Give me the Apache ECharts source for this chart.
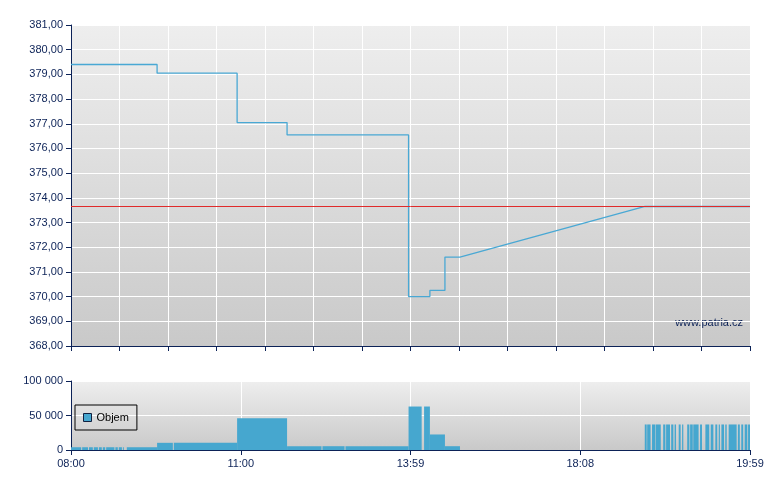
<!DOCTYPE html>
<html>
<head>
<meta charset="utf-8">
<script src="https://cdn.jsdelivr.net/npm/echarts@6/dist/echarts.min.js"></script>
<style>html,body{margin:0;padding:0;background:#fff}#c{width:780px;height:490px}</style>
</head>
<body>
<div id="c"></div>
<script>
// x axis is a trade-index scale 0..280; labelled times sit at every 70
var timeLabels = ['08:00', '11:00', '13:59', '18:08', '19:59'];
var priceTicks = [368, 369, 370, 371, 372, 373, 374, 375, 376, 377, 378, 379, 380, 381];
var volumeTicks = [0, 50000, 100000];

var priceX = [0, 35.5, 35.5, 68.5, 68.5, 89.1, 89.1, 139.2, 139.2, 148.0, 148.0, 154.2, 154.2, 160.4, 236.7, 280];
var priceY = [379.40, 379.40, 379.05, 379.05, 377.05, 377.05, 376.55, 376.55, 370.00, 370.00, 370.25, 370.25, 371.60, 371.60, 373.65, 373.65];
var refPrice = 373.65;

var volStart = [0, 4.6, 7.4, 9.4, 11.5, 13.1, 14.5, 18.3, 19.7, 21.4, 23.0,
  35.5, 42.4, 68.5, 89.1, 103.7, 113.2, 139.2, 145.6, 148.0, 154.2,
  236.6, 237.6, 239.6, 241.2, 244.2, 245.4, 247.5, 248.9, 250.6, 252.0, 254.1, 255.3, 256.6, 259.4,
  261.6, 263.8, 265.7, 267.1, 268.2, 269.8, 271.2, 275.0, 276.4, 277.8, 279.2];
var volEnd = [4.2, 7.0, 9.0, 11.1, 12.7, 14.1, 17.9, 19.3, 21.0, 21.8, 35.5,
  42.0, 68.5, 89.1, 103.3, 112.8, 139.2, 144.6, 148.0, 154.2, 160.4,
  237.4, 239.0, 241.0, 243.2, 245.1, 247.0, 248.4, 249.5, 251.4, 252.5, 255.0, 256.4, 258.8, 260.2,
  263.2, 264.9, 266.5, 267.6, 269.3, 270.4, 274.5, 275.8, 277.2, 278.9, 280];
var volValue = [4000, 4000, 4000, 4000, 4000, 4000, 4000, 4000, 4000, 4000, 4000,
  10400, 10400, 46000, 5500, 5500, 5500, 63000, 63000, 22500, 5500,
  37000, 37000, 37000, 37000, 37000, 37000, 37000, 37000, 37000, 37000, 37000, 37000, 37000, 37000,
  37000, 37000, 37000, 37000, 37000, 37000, 37000, 37000, 37000, 37000, 37000];

var navy = '#0c2257';
var lineBlue = '#49a8d4';
var barBlue = '#46a7cf';
var font = '"Liberation Sans", Arial, sans-serif';

var priceData = priceX.map(function (x, i) { return [x, priceY[i]]; });
var volData = volStart.map(function (s, i) { return [s, volEnd[i], volValue[i]]; });

function bg() {
  return new echarts.graphic.LinearGradient(0, 0, 0, 1, [
    {offset: 0, color: '#eeeeee'}, {offset: 1, color: '#c9c9c9'}
  ]);
}
function fmtPrice(v) { return v.toFixed(2).replace('.', ','); }
function fmtVol(v) { return String(v).replace(/\B(?=(\d{3})+(?!\d))/g, ' '); }

var chart = echarts.init(document.getElementById('c'), null, {renderer: 'canvas'});
chart.setOption({
  animation: false,
  backgroundColor: '#ffffff',
  textStyle: {fontFamily: font},
  grid: [
    {left: 71, top: 25, width: 679, height: 321, show: true, backgroundColor: bg(), borderWidth: 0},
    {left: 71, top: 381, width: 679, height: 69, show: true, backgroundColor: bg(), borderWidth: 0}
  ],
  legend: {
    data: ['Objem'], left: 75, top: 405, orient: 'vertical',
    padding: [7, 8, 7, 8], borderColor: '#000', borderWidth: 1,
    itemWidth: 8, itemHeight: 8, icon: 'rect',
    itemStyle: {borderColor: '#102040', borderWidth: 1},
    textStyle: {fontFamily: font, fontSize: 11, color: '#000'}
  },
  graphic: [{
    type: 'text', right: 37, top: 317,
    style: {text: 'www.patria.cz', font: '11px ' + font, fill: navy}
  }],
  xAxis: [
    {gridIndex: 0, type: 'value', min: 0, max: 280, interval: 20,
      axisLine: {show: true, lineStyle: {color: navy, width: 1}},
      axisTick: {show: true, length: 5, lineStyle: {color: navy}},
      axisLabel: {show: false},
      splitLine: {show: true, lineStyle: {color: '#ffffff', width: 1}}},
    {gridIndex: 1, type: 'value', min: 0, max: 280, interval: 70,
      axisLine: {show: true, lineStyle: {color: navy, width: 1}},
      axisTick: {show: true, length: 5, lineStyle: {color: navy}},
      axisLabel: {show: true, color: navy, fontSize: 11, fontFamily: font, margin: 8,
        formatter: function (v) { return timeLabels[Math.round(v / 70)]; }},
      splitLine: {show: true, lineStyle: {color: '#ffffff', width: 1}}}
  ],
  yAxis: [
    {gridIndex: 0, type: 'value', min: priceTicks[0], max: priceTicks[priceTicks.length - 1], interval: 1,
      axisLine: {show: true, lineStyle: {color: navy, width: 1}},
      axisTick: {show: true, length: 5, lineStyle: {color: navy}},
      axisLabel: {color: navy, fontSize: 11, fontFamily: font, margin: 8, formatter: fmtPrice},
      splitLine: {show: true, lineStyle: {color: '#ffffff', width: 1}}},
    {gridIndex: 1, type: 'value', min: volumeTicks[0], max: volumeTicks[volumeTicks.length - 1], interval: 50000,
      axisLine: {show: true, lineStyle: {color: navy, width: 1}},
      axisTick: {show: true, length: 5, lineStyle: {color: navy}},
      axisLabel: {color: navy, fontSize: 11, fontFamily: font, margin: 8, formatter: fmtVol},
      splitLine: {show: true, lineStyle: {color: '#ffffff', width: 1}}}
  ],
  series: [
    {name: 'Cena', type: 'line', xAxisIndex: 0, yAxisIndex: 0, data: priceData,
      showSymbol: false, symbol: 'none', lineStyle: {color: lineBlue, width: 1.3}, z: 3,
      markLine: {silent: true, symbol: 'none', label: {show: false},
        lineStyle: {color: '#e02a2a', width: 1, type: 'solid'},
        data: [{yAxis: refPrice}]}},
    {name: 'Objem', type: 'custom', xAxisIndex: 1, yAxisIndex: 1, data: volData,
      itemStyle: {color: barBlue}, clip: true,
      encode: {x: [0, 1], y: 2},
      renderItem: function (params, api) {
        var p0 = api.coord([api.value(0), api.value(2)]);
        var p1 = api.coord([api.value(1), 0]);
        return {type: 'rect',
          shape: {x: p0[0], y: p0[1], width: p1[0] - p0[0], height: p1[1] - p0[1]},
          style: {fill: barBlue}};
      }}
  ]
});
</script>
</body>
</html>
